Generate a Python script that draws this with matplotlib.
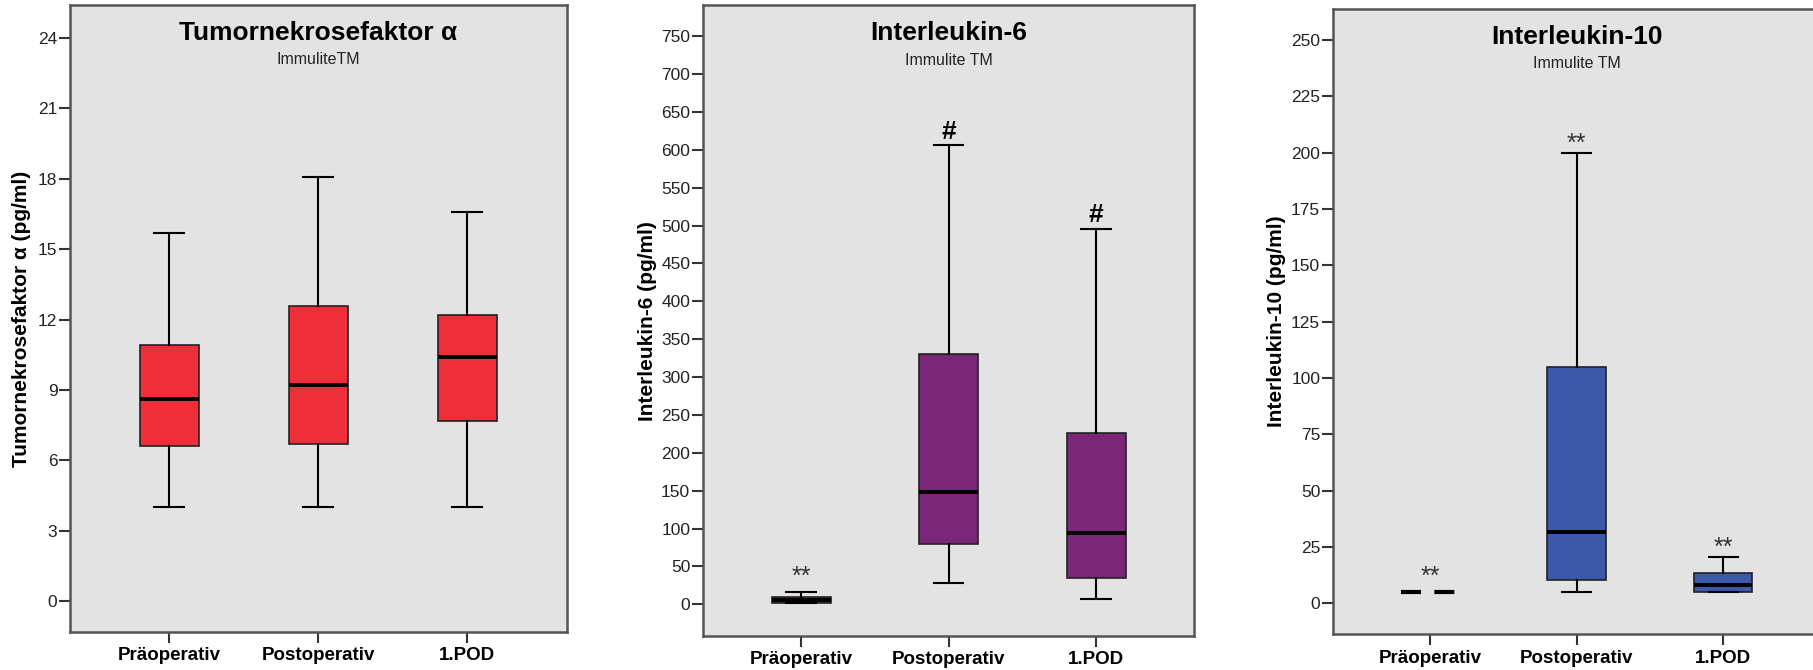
import matplotlib
matplotlib.use("Agg")
import matplotlib.pyplot as plt

plt.rcParams['font.family'] = ['Liberation Sans', 'DejaVu Sans']

# Kategorien
gruppen = ["Präoperativ", "Postoperativ", "1.POD"]

# TNF-alpha (pg/ml): Whisker unten, Q1, Median, Q3, Whisker oben
tnf_low = [4.0, 4.0, 4.0]
tnf_q1 = [6.6, 6.7, 7.7]
tnf_med = [8.6, 9.2, 10.4]
tnf_q3 = [10.9, 12.6, 12.2]
tnf_high = [15.7, 18.1, 16.6]
tnf_mark = ["", "", ""]

# Interleukin-6 (pg/ml)
il6_low = [1, 28, 7]
il6_q1 = [2, 80, 35]
il6_med = [6, 148, 94]
il6_q3 = [10, 331, 226]
il6_high = [16, 606, 496]
il6_mark = ["**", "#", "#"]

# Interleukin-10 (pg/ml)
il10_low = [5, 5, 5]
il10_q1 = [5, 10.3, 5]
il10_med = [5, 31.5, 8]
il10_q3 = [5, 105, 13.3]
il10_high = [5, 200, 20.6]
il10_mark = ["**", "**", "**"]

fig = plt.figure(figsize=(18.13, 6.7), dpi=100)


def zeichne_box(ax, low, q1, med, q3, high, marks, farbe, titel, untertitel,
                ylabel, ylim, yticks, labelx, dash_first=False):
    stats = []
    for i in range(len(gruppen)):
        stats.append(dict(whislo=low[i], q1=q1[i], med=med[i], q3=q3[i],
                          whishi=high[i], fliers=[], label=gruppen[i]))
    ax.set_facecolor("#e3e3e3")
    res = ax.bxp(stats, positions=range(len(gruppen)), widths=0.4,
                 patch_artist=True, showfliers=False,
                 boxprops=dict(facecolor=farbe, edgecolor="#222222", linewidth=1.2),
                 medianprops=dict(color="black", linewidth=2.8, solid_capstyle="butt"),
                 whiskerprops=dict(color="black", linewidth=1.5),
                 capprops=dict(color="black", linewidth=1.5),
                 capwidths=0.2)
    if dash_first:
        # degenerierte Box: nur Median mit Luecke wie im Original
        res['boxes'][0].set_visible(False)
        for k in (0, 1):
            res['caps'][k].set_visible(False)
            res['whiskers'][k].set_visible(False)
        res['medians'][0].set_linestyle((0, (4.8, 3.2)))
        res['medians'][0].set_linewidth(3.0)
    for i, m in enumerate(marks):
        if not m:
            continue
        if m == "#":
            ax.annotate(m, (i, high[i]), xytext=(0, 1), textcoords="offset points",
                        ha="center", va="bottom", fontsize=19, fontweight="bold",
                        color="black")
        else:
            ax.annotate(m, (i, high[i]), xytext=(0, -2 if i else 2),
                        textcoords="offset points",
                        ha="center", va="bottom", fontsize=18, color="#333333")
    ax.set_xlim(-0.667, 2.667)
    ax.set_ylim(*ylim)
    ax.set_yticks(yticks)
    ax.set_xticks(range(len(gruppen)))
    ax.set_xticklabels(gruppen, fontsize=13.5, fontweight="bold")
    ax.tick_params(axis="x", length=8, width=1.5, pad=3, color="#333333")
    ax.tick_params(axis="y", length=8, width=1.5, pad=1, labelsize=12.5,
                   color="#333333", labelcolor="#222222")
    for s in ax.spines.values():
        s.set_color("#555555")
        s.set_linewidth(1.8)
    ax.set_ylabel(ylabel, fontsize=15, fontweight="bold")
    ax.yaxis.set_label_coords(labelx, 0.5)
    ax.text(0.5, 0.975, titel, transform=ax.transAxes, ha="center", va="top",
            fontsize=19, fontweight="bold")
    ax.text(0.5, 0.925, untertitel, transform=ax.transAxes, ha="center",
            va="top", fontsize=11.5, color="#222222")


ax1 = fig.add_axes([0.0386, 0.0572, 0.274, 0.935])
zeichne_box(ax1, tnf_low, tnf_q1, tnf_med, tnf_q3, tnf_high, tnf_mark,
            "#ee2f3a", "Tumornekrosefaktor α", "ImmuliteTM",
            "Tumornekrosefaktor α (pg/ml)", (-1.3, 25.4),
            [0, 3, 6, 9, 12, 15, 18, 21, 24], -0.0785)

ax2 = fig.add_axes([0.3876, 0.0507, 0.2712, 0.9414])
zeichne_box(ax2, il6_low, il6_q1, il6_med, il6_q3, il6_high, il6_mark,
            "#7b2777", "Interleukin-6", "Immulite TM",
            "Interleukin-6 (pg/ml)", (-42, 791),
            list(range(0, 751, 50)), -0.0934)

ax3 = fig.add_axes([0.7351, 0.0533, 0.2692, 0.9333])
zeichne_box(ax3, il10_low, il10_q1, il10_med, il10_q3, il10_high, il10_mark,
            "#3d57a9", "Interleukin-10", "Immulite TM",
            "Interleukin-10 (pg/ml)", (-13.8, 263.8),
            list(range(0, 251, 25)), -0.096, dash_first=True)

fig.savefig("out.png", dpi=100)
